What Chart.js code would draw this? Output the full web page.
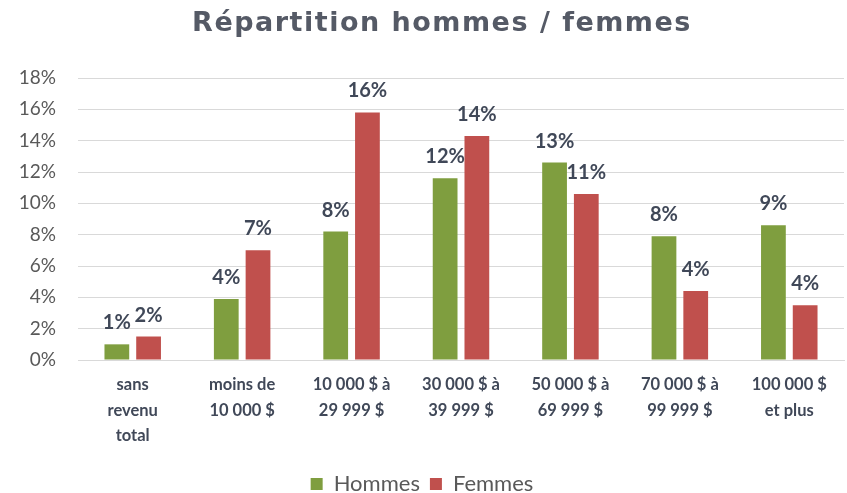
<!DOCTYPE html>
<html>
<head>
<meta charset="utf-8">
<script src="https://cdn.jsdelivr.net/npm/chart.js@4/dist/chart.umd.min.js"></script>
<style>
  html, body { margin: 0; padding: 0; background: #fff; }
  #wrap { width: 847px; height: 493px; }
</style>
</head>
<body>
<div id="wrap"><canvas id="myBarChart"></canvas></div>
<script>
// categories (multi-line labels)
const categories = [
    ['sans', 'revenu', 'total'],
    ['moins de', '10 000 $'],
    ['10 000 $ à', '29 999 $'],
    ['30 000 $ à', '39 999 $'],
    ['50 000 $ à', '69 999 $'],
    ['70 000 $ à', '99 999 $'],
    ['100 000 $', 'et plus']
];
// values in percent
const hommes = [1.0, 3.9, 8.2, 11.6, 12.6, 7.9, 8.6];
const femmes = [1.5, 7.0, 15.8, 14.3, 10.6, 4.4, 3.5];
const yTicks = [0, 2, 4, 6, 8, 10, 12, 14, 16, 18];
const titleText = 'Répartition hommes / femmes';

const fontFamily = 'Lato, "Noto Sans", sans-serif';

// draws the value labels above each bar + the title
const barLabels = {
    id: 'barLabels',
    afterDatasetsDraw(chart) {
        const ctx = chart.ctx;
        ctx.save();
        ctx.font = 'bold 20px ' + fontFamily;
        ctx.fillStyle = '#404858';
        ctx.textAlign = 'center';
        ctx.textBaseline = 'alphabetic';
        chart.data.datasets.forEach((ds, i) => {
            chart.getDatasetMeta(i).data.forEach((bar, j) => {
                ctx.fillText(Math.round(ds.data[j]) + '%', bar.x, bar.y - 15);
            });
        });
        // title, a bit wider spaced like the original
        ctx.font = 'bold 27px "DejaVu Sans", sans-serif';
        ctx.fillStyle = '#555a66';
        ctx.letterSpacing = '1.5px';
        ctx.fillText(titleText, 442, 31);
        ctx.restore();
    }
};

var ctx = document.getElementById('myBarChart').getContext('2d');
var myBarChart = new Chart(ctx, {
    type: 'bar',
    data: {
        labels: categories,
        datasets: [
            { label: 'Hommes', data: hommes, backgroundColor: '#7f9e3f' },
            { label: 'Femmes', data: femmes, backgroundColor: '#c0504d' }
        ]
    },
    options: {
        responsive: true,
        maintainAspectRatio: false,
        animation: false,
        layout: { padding: { left: 0, right: 3, top: 78, bottom: -12 } },
        datasets: {
            bar: { categoryPercentage: 0.58, barPercentage: 0.78 }
        },
        plugins: {
            title: { display: false },
            legend: {
                position: 'bottom',
                labels: {
                    color: '#595959',
                    font: { family: fontFamily, size: 22 },
                    boxWidth: 12,
                    boxHeight: 12,
                    padding: 10
                }
            },
            tooltip: { enabled: false }
        },
        scales: {
            x: {
                afterFit: (scale) => { scale.height = 103; },
                grid: { display: false },
                border: { color: '#d9d9d9' },
                ticks: {
                    color: '#404858',
                    font: { family: fontFamily, size: 16.5, weight: 'bold', lineHeight: 1.55 },
                    maxRotation: 0,
                    autoSkip: false,
                    padding: 4
                }
            },
            y: {
                min: 0,
                max: 18,
                afterBuildTicks: (scale) => { scale.ticks = yTicks.map(v => ({ value: v })); },
                afterFit: (scale) => { scale.width = 78; },
                grid: { color: '#d9d9d9', drawTicks: false },
                border: { display: false },
                ticks: {
                    color: '#595959',
                    font: { family: fontFamily, size: 19 },
                    padding: 22,
                    callback: (v) => v + '%'
                }
            }
        }
    },
    plugins: [barLabels]
});
</script>
</body>
</html>
